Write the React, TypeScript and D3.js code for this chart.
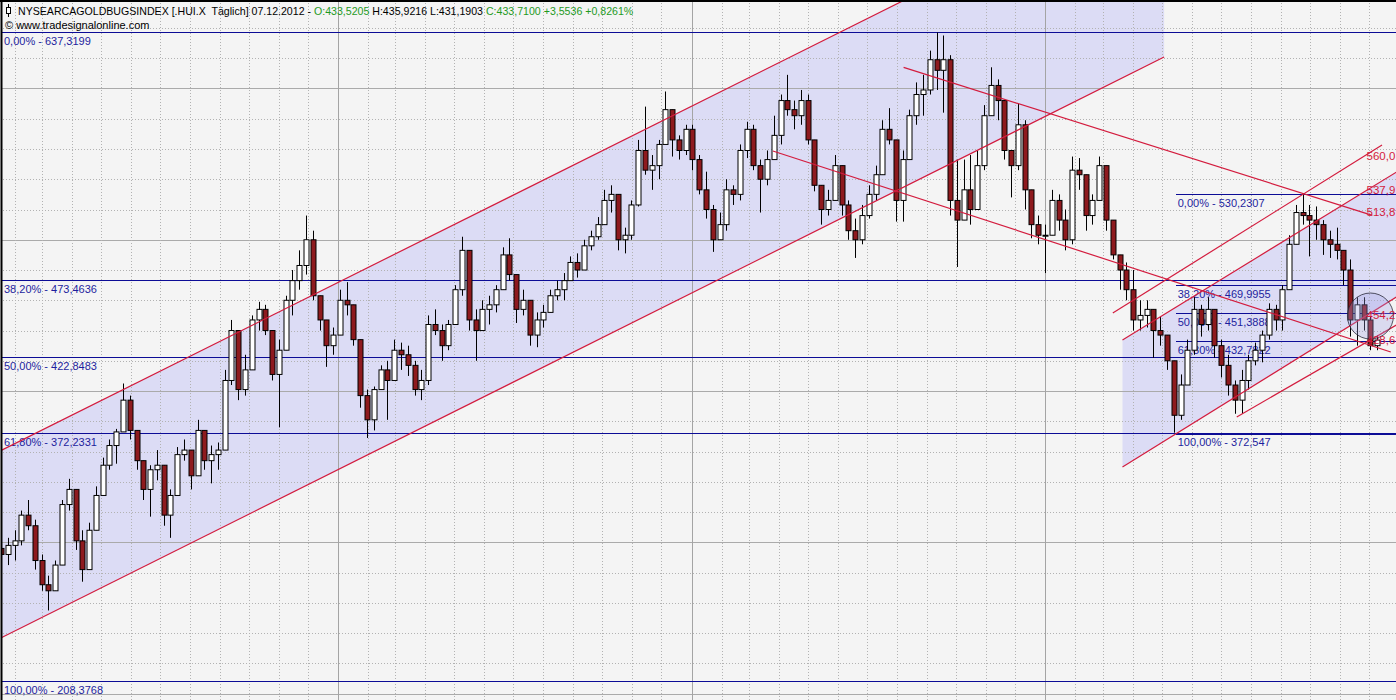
import React from 'react';
import * as d3 from 'd3';

const W = 1396;
const H = 700;

// Weekly bars of the HUI index (first bar week of 18 Jan 2009)
const WEEK_START = '2009-01-18';
const FIRST_OPEN = 296;
const HIGHS = [
  306, 303, 308, 321, 328, 315, 292, 278, 288, 328, 342, 335, 308, 313, 337, 356, 368, 375, 405, 397,
  374, 354, 351, 361, 348, 335, 363, 368, 361, 381, 374, 364, 366, 414, 447, 440, 424, 450, 459, 457,
  440, 434, 463, 480, 493, 516, 506, 463, 447, 442, 467, 472, 457, 434, 401, 403, 417, 420, 434, 432,
  430, 420, 414, 450, 454, 444, 447, 470, 502, 493, 454, 460, 463, 470, 495, 501, 473, 467, 460, 452,
  457, 467, 473, 478, 489, 491, 500, 506, 515, 533, 536, 530, 508, 526, 566, 588, 556, 566, 598, 586,
  569, 576, 576, 556, 545, 523, 518, 540, 536, 563, 578, 576, 553, 559, 582, 596, 609, 592, 599, 596,
  566, 536, 533, 556, 549, 526, 514, 523, 536, 549, 579, 587, 566, 559, 586, 604, 609, 625, 637, 635,
  622, 553, 553, 556, 559, 589, 614, 606, 592, 559, 590, 579, 526, 516, 510, 533, 530, 520, 555, 554,
  543, 530, 555, 549, 513, 490, 485, 480, 460, 460, 454, 449, 437, 417, 411, 434, 462, 457, 462, 454,
  434, 424, 407, 414, 424, 432, 440, 458, 457, 470, 503, 523, 530, 523, 522, 513, 506, 508, 493, 487,
  462, 462, 449, 437,
];
const LOWS = [
  273, 285, 288, 298, 308, 282, 268, 255, 268, 285, 321, 295, 274, 282, 308, 331, 348, 352, 374, 368,
  348, 328, 317, 341, 311, 303, 331, 354, 335, 344, 348, 339, 348, 361, 404, 394, 397, 414, 440, 437,
  407, 376, 427, 450, 467, 477, 460, 440, 416, 424, 437, 450, 430, 389, 369, 374, 401, 381, 407, 414,
  410, 397, 394, 404, 437, 420, 427, 444, 463, 440, 420, 440, 444, 452, 467, 473, 445, 450, 430, 429,
  442, 452, 460, 460, 473, 475, 480, 493, 500, 510, 518, 493, 491, 500, 522, 543, 533, 540, 566, 555,
  553, 556, 546, 530, 514, 492, 500, 506, 523, 526, 554, 546, 518, 536, 553, 563, 582, 573, 576, 563,
  532, 510, 516, 526, 516, 500, 488, 497, 514, 526, 543, 563, 512, 512, 553, 576, 582, 596, 599, 584,
  516, 482, 516, 510, 520, 546, 582, 579, 553, 528, 546, 520, 501, 497, 478, 510, 506, 493, 497, 533,
  506, 510, 526, 506, 487, 467, 460, 440, 440, 442, 422, 430, 414, 372.5, 381, 404, 424, 436, 440, 422,
  409, 397, 385, 385, 401, 417, 419, 434, 440, 440, 467, 497, 510, 489, 500, 490, 488, 487, 470, 436,
  430, 440, 427, 427,
];
const CLOSES = [
  292, 298, 301, 318, 311, 288, 272, 268, 285, 325, 335, 301, 282, 308, 331, 351, 364, 373, 394, 374,
  354, 335, 348, 351, 318, 331, 358, 361, 344, 374, 354, 358, 361, 407, 440, 401, 414, 447, 454, 440,
  411, 427, 460, 473, 483, 500, 463, 447, 430, 437, 460, 457, 434, 397, 381, 401, 414, 407, 427, 424,
  417, 401, 407, 444, 440, 430, 444, 467, 493, 447, 440, 454, 457, 467, 490, 477, 454, 460, 437, 447,
  452, 463, 467, 473, 485, 480, 496, 502, 510, 526, 530, 500, 503, 523, 559, 546, 549, 563, 586, 566,
  559, 573, 553, 533, 520, 500, 510, 533, 530, 559, 573, 549, 540, 553, 569, 592, 586, 582, 592, 566,
  536, 520, 526, 549, 523, 506, 500, 516, 530, 543, 573, 566, 526, 553, 582, 596, 599, 619, 612, 619,
  526, 513, 533, 520, 549, 582, 602, 592, 559, 549, 576, 533, 510, 503, 503, 526, 513, 500, 546, 543,
  516, 526, 549, 513, 490, 480, 467, 447, 450, 454, 440, 437, 420, 384, 404, 427, 454, 444, 454, 430,
  417, 404, 394, 407, 420, 427, 437, 454, 447, 467, 497, 518, 516, 513, 510, 500, 497, 493, 480, 447,
  457, 447, 430, 433.71,
];

// Last daily quote shown in the header
const TITLE = 'NYSEARCAGOLDBUGSINDEX [.HUI.X  Täglich] 07.12.2012 - ';
const LAST_QUOTE = { o: '433,5205', h: '435,9216', l: '431,1903', c: '433,7100', chg: '+3,5536', pct: '+0,8261%' };
const COPYRIGHT = '© www.tradesignalonline.com';

// Fibonacci retracements
const FIB_PCTS = [0, 0.382, 0.5, 0.618, 1];
const FIB_LEFT = { high: 637.3199, low: 208.3768 };
const FIB_RIGHT = { high: 530.2307, low: 372.547, from: '2012-05-15' };

// Trend lines (date, price)
const CHANNEL_UPPER = { d1: '2009-01-17', p1: 360.4, d2: '2012-05-03', p2: 744.0 };
const CHANNEL_LOWER = { d1: '2009-01-17', p1: 236.5, d2: '2012-05-03', p2: 620.8 };
const TREND_DOWN = [
  { d1: '2011-08-08', p1: 613.9, d2: '2012-12-04', p2: 516.1 },
  { d1: '2011-03-26', p1: 558.7, d2: '2012-12-23', p2: 425.8 },
];
const RIGHT_UPPER = { d1: '2012-03-21', p1: 433.8, d2: '2012-12-29', p2: 544.8 };
const RIGHT_LOWER = { d1: '2012-03-21', p1: 349.8, d2: '2012-12-29', p2: 462.2 };
const FAN_LINES = [
  { d1: '2012-03-11', p1: 451.6, d2: '2012-12-14', p2: 562.7 },
  { d1: '2012-07-17', p1: 382.9, d2: '2012-12-29', p2: 443.7 },
];
const FAN_LABELS = [
  { t: '560,0', d: '2012-11-28', p: 552.7 },
  { t: '537,9', d: '2012-11-28', p: 530.3 },
  { t: '513,8', d: '2012-11-28', p: 515.7 },
  { t: '454,2', d: '2012-11-28', p: 447.6 },
  { t: '428,6', d: '2012-11-28', p: 431.1 },
];
const CIRCLE = { d: '2012-12-02', p: 449.6, r: 23 };

const parse = d3.timeParse('%Y-%m-%d');

const BLUE = '#0c0c96';
const BLUE_TEXT = '#1e1e9e';
const RED = '#d31c3e';
const SHADE = '#dcdcf5';
const FONT = '"Liberation Sans", Arial, sans-serif';

export default function App() {
  const x = d3.scaleTime().domain([new Date(2009, 0, 1), new Date(2012, 0, 1)]).range([-15.5, 1045]);
  const y = d3.scaleLinear().domain([208.3768, 637.3199]).range([681, 32]);

  const start = parse(WEEK_START) as Date;
  const bars = CLOSES.map((c, i) => {
    const o = i === 0 ? FIRST_OPEN : CLOSES[i - 1];
    const hi = Math.max(HIGHS[i], o, c);
    const lo = Math.min(LOWS[i], o, c);
    return { date: d3.timeDay.offset(start, 7 * i), o, h: hi, l: lo, c };
  });

  const months = d3.timeMonth.range(new Date(2009, 1, 1), new Date(2013, 0, 2));
  const prices = d3.range(200, 680, 20);

  const pt = (d: string, p: number): [number, number] => [x(parse(d) as Date), y(p)];
  const seg = (l: { d1: string; p1: number; d2: string; p2: number }) => {
    const [x1, y1] = pt(l.d1, l.p1);
    const [x2, y2] = pt(l.d2, l.p2);
    return { x1, y1, x2, y2 };
  };
  const poly = (a: any, b: any) => {
    const s1 = seg(a);
    const s2 = seg(b);
    return `${s1.x1},${s1.y1} ${s1.x2},${s1.y2} ${s2.x2},${s2.y2} ${s2.x1},${s2.y1}`;
  };

  const fmtVal = (v: number) => v.toFixed(4).replace(/0+$/, '').replace(/\.$/, '').replace('.', ',');
  const fmtPct = (p: number) => (p * 100).toFixed(2).replace('.', ',') + '%';

  const fibLevels = (f: { high: number; low: number }) =>
    FIB_PCTS.map((p) => ({ p, v: f.high - p * (f.high - f.low) }));

  const rightStart = x(parse(FIB_RIGHT.from) as Date);
  const bodyW = 5;

  const allTrend = [CHANNEL_UPPER, CHANNEL_LOWER, ...TREND_DOWN, RIGHT_UPPER, RIGHT_LOWER, ...FAN_LINES];
  const circ = pt(CIRCLE.d, CIRCLE.p);

  return (
    <svg
      width={W}
      height={H}
      style={{ position: 'absolute', left: 0, top: 0, display: 'block', background: '#f4f4f4' }}
      fontFamily={FONT}
    >
      <defs>
        <clipPath id="plot">
          <rect x={2} y={2} width={W - 2} height={H - 2} />
        </clipPath>
      </defs>
      <rect x={0} y={0} width={W} height={H} fill="#f4f4f4" />
      <g clipPath="url(#plot)">
        {/* channel shading */}
        <polygon points={poly(CHANNEL_UPPER, CHANNEL_LOWER)} fill={SHADE} />
        <polygon points={poly(RIGHT_UPPER, RIGHT_LOWER)} fill={SHADE} />

        {/* grid */}
        <g shapeRendering="crispEdges">
          {prices.map((p) => (
            <line
              key={'h' + p}
              x1={0}
              x2={W}
              y1={Math.round(y(p)) + 0.5}
              y2={Math.round(y(p)) + 0.5}
              stroke={p % 100 === 0 ? '#aaaaaa' : '#b2b2b2'}
              strokeDasharray={p % 100 === 0 ? undefined : '1 2'}
            />
          ))}
          {months.map((m) => {
            const xx = Math.round(x(m)) + 0.5;
            const jan = m.getMonth() === 0;
            return (
              <line
                key={'v' + m.getTime()}
                x1={xx}
                x2={xx}
                y1={0}
                y2={H}
                stroke={jan ? '#a4a4a4' : '#b2b2b2'}
                strokeDasharray={jan ? undefined : '1 2'}
              />
            );
          })}
        </g>

        {/* fibonacci levels */}
        <g shapeRendering="crispEdges">
          {fibLevels(FIB_LEFT).map((f) => (
            <g key={'fl' + f.p}>
              <line x1={0} x2={W} y1={Math.round(y(f.v)) + 0.5} y2={Math.round(y(f.v)) + 0.5} stroke={BLUE} />
              <text x={4} y={y(f.v) + 13} fontSize={11} fill={BLUE_TEXT}>
                {fmtPct(f.p) + ' - ' + fmtVal(f.v)}
              </text>
            </g>
          ))}
          {fibLevels(FIB_RIGHT).map((f) => (
            <g key={'fr' + f.p}>
              <line
                x1={rightStart}
                x2={W}
                y1={Math.round(y(f.v)) + 0.5}
                y2={Math.round(y(f.v)) + 0.5}
                stroke={BLUE}
                strokeWidth={f.p === 1 ? 2 : 1}
              />
              <text x={rightStart + 2} y={y(f.v) + 13} fontSize={11} fill={BLUE_TEXT}>
                {fmtPct(f.p) + ' - ' + fmtVal(f.v)}
              </text>
            </g>
          ))}
        </g>

        {/* candles */}
        <g>
          {bars.map((b, i) => {
            const cx = Math.round(x(b.date)) + 0.5;
            const up = b.c >= b.o;
            const top = y(Math.max(b.o, b.c));
            const bot = y(Math.min(b.o, b.c));
            return (
              <g key={i}>
                <line x1={cx} x2={cx} y1={y(b.h)} y2={y(b.l)} stroke="#000" strokeWidth={1} />
                <rect
                  x={cx - bodyW / 2}
                  y={top}
                  width={bodyW}
                  height={Math.max(1, bot - top)}
                  fill={up ? '#ffffff' : '#8e1a1e'}
                  stroke="#000"
                  strokeWidth={1}
                />
              </g>
            );
          })}
        </g>

        {/* trend lines */}
        {allTrend.map((l, i) => {
          const s = seg(l);
          return <line key={'t' + i} {...s} stroke={RED} strokeWidth={1.2} />;
        })}

        {/* circle marker */}
        <circle cx={circ[0]} cy={circ[1]} r={CIRCLE.r} fill="rgba(160,160,230,0.3)" stroke="#2a2a3a" strokeWidth={0.8} />

        {FAN_LABELS.map((l) => {
          const [lx, ly] = pt(l.d, l.p);
          return (
            <text key={l.t} x={lx} y={ly} fontSize={11.5} fill={RED}>
              {l.t}
            </text>
          );
        })}

        {/* header */}
        <g>
          <line x1={8.5} x2={8.5} y1={4} y2={17} stroke="#000" />
          <rect x={6.5} y={7.5} width={4} height={6} fill="#fff" stroke="#000" />
          <text x={18} y={15} fontSize={10.6} fill="#000" style={{ whiteSpace: 'pre' }}>
            <tspan>{TITLE}</tspan>
            <tspan fill="#1e9a1e">{'O:' + LAST_QUOTE.o}</tspan>
            <tspan>{' H:' + LAST_QUOTE.h + ' L:' + LAST_QUOTE.l + ' '}</tspan>
            <tspan fill="#1e9a1e">{'C:' + LAST_QUOTE.c + ' ' + LAST_QUOTE.chg + ' ' + LAST_QUOTE.pct}</tspan>
          </text>
          <text x={5} y={29} fontSize={11} fill="#000">
            {COPYRIGHT}
          </text>
        </g>
      </g>
      {/* frame */}
      <line x1={0} x2={W} y1={1} y2={1} stroke="#000" strokeWidth={2} />
      <line x1={1.5} x2={1.5} y1={0} y2={H} stroke="#000" strokeWidth={2} />
    </svg>
  );
}
